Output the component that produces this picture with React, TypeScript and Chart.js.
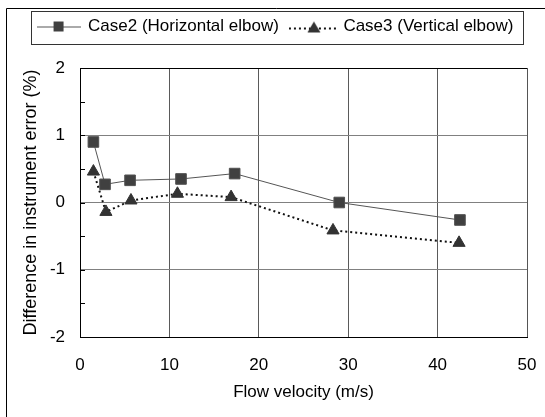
import React, { useEffect, useRef } from 'react';
import { Chart, registerables } from 'chart.js';

Chart.register(...registerables);

// ---- data ----
const seriesNames = ['Case2 (Horizontal elbow)', 'Case3 (Vertical elbow)'];
const case2X = [1.5, 2.8, 5.6, 11.3, 17.3, 29.0, 42.5];
const case2Y = [0.9, 0.27, 0.33, 0.35, 0.43, 0.0, -0.26];
const case3X = [1.5, 2.9, 5.7, 10.9, 16.9, 28.3, 42.4];
const case3Y = [0.46, -0.14, 0.03, 0.13, 0.08, -0.415, -0.6];
const xMin = 0;
const xMax = 50;
const xStep = 10;
const yMin = -2;
const yMax = 2;
const yStep = 1;
const yMinorStep = 0.5;
const xTitle = 'Flow velocity (m/s)';
const yTitle = 'Difference in instrument error (%)';

const FONT = "'Liberation Sans', Arial, sans-serif";

function makeSample(kind: 'square' | 'triangle'): HTMLCanvasElement {
  const c = document.createElement('canvas');
  const w = kind === 'square' ? 44 : 50;
  c.width = w;
  c.height = 14;
  const g = c.getContext('2d') as CanvasRenderingContext2D;
  const cx = w / 2;
  if (kind === 'square') {
    g.strokeStyle = '#555555';
    g.lineWidth = 1;
    g.beginPath();
    g.moveTo(0, 7.5);
    g.lineTo(w, 7.5);
    g.stroke();
    g.fillStyle = '#404040';
    g.fillRect(cx - 5, 2, 10, 10);
  } else {
    g.strokeStyle = '#111111';
    g.lineWidth = 2;
    g.setLineDash([2, 3]);
    g.beginPath();
    g.moveTo(0, 9);
    g.lineTo(w, 9);
    g.stroke();
    g.setLineDash([]);
    g.fillStyle = '#333333';
    g.beginPath();
    g.moveTo(cx, 2);
    g.lineTo(cx + 6.5, 13);
    g.lineTo(cx - 6.5, 13);
    g.closePath();
    g.fill();
  }
  return c;
}

const decor = {
  id: 'decor',
  beforeLayout(chart: any) {
    const leg = chart.legend;
    if (leg && !leg.__patched) {
      const orig = leg.fit.bind(leg);
      leg.fit = function () {
        orig();
        this.height = 64;
      };
      leg.__patched = true;
    }
  },
  afterLayout(chart: any) {
    const leg = chart.legend;
    if (leg) {
      leg.left = 6;
      leg.right = 545;
      leg.width = 539;
    }
  },
  afterDraw(chart: any) {
    const { ctx, chartArea } = chart;
    ctx.save();
    ctx.lineWidth = 1;
    // outer frame
    ctx.strokeStyle = '#000000';
    ctx.beginPath();
    ctx.moveTo(6.5, 430);
    ctx.lineTo(6.5, 8.5);
    ctx.lineTo(560, 8.5);
    ctx.stroke();
    // legend box
    const hb = chart.legend && chart.legend.legendHitBoxes;
    if (hb && hb.length) {
      const l = Math.min(...hb.map((h: any) => h.left)) - 7;
      const r = Math.max(...hb.map((h: any) => h.left + h.width)) + 9;
      ctx.strokeStyle = '#333333';
      ctx.strokeRect(Math.round(l) + 0.5, 11.5, Math.round(r - l), 33);
    }
    // inner minor ticks on y axis
    const ys = chart.scales.y;
    ctx.strokeStyle = '#000000';
    ctx.beginPath();
    for (let v = yMin; v <= yMax + 1e-9; v += yMinorStep) {
      const py = Math.round(ys.getPixelForValue(v)) + 0.5;
      ctx.moveTo(chartArea.left, py);
      ctx.lineTo(chartArea.left + 5, py);
    }
    ctx.stroke();
    ctx.restore();
  },
};

export default function App() {
  const ref = useRef<HTMLCanvasElement | null>(null);

  useEffect(() => {
    if (!ref.current) return;
    const samples = [makeSample('square'), makeSample('triangle')];
    Chart.defaults.font.family = FONT;
    const chart = new Chart(ref.current, {
      type: 'line',
      data: {
        datasets: [
          {
            label: seriesNames[0],
            data: case2X.map((x, i) => ({ x, y: case2Y[i] })),
            borderColor: '#555555',
            borderWidth: 1,
            pointStyle: 'rect',
            pointRadius: 7.5,
            pointBackgroundColor: '#404040',
            pointBorderColor: '#505050',
            pointBorderWidth: 1,
            tension: 0,
            order: 1,
          },
          {
            label: seriesNames[1],
            data: case3X.map((x, i) => ({ x, y: case3Y[i] })),
            borderColor: '#111111',
            borderWidth: 2,
            borderDash: [2, 3],
            pointStyle: 'triangle',
            pointRadius: 7,
            pointBackgroundColor: '#333333',
            pointBorderColor: '#333333',
            pointBorderWidth: 1,
            tension: 0,
            order: 2,
          },
        ],
      },
      options: {
        responsive: false,
        animation: false,
        devicePixelRatio: 1,
        layout: { padding: { left: 0, top: 4, right: 18, bottom: 0 } },
        plugins: {
          tooltip: { enabled: false },
          legend: {
            position: 'top',
            align: 'center',
            labels: {
              usePointStyle: true,
              pointStyleWidth: 42,
              padding: 14,
              color: '#000000',
              font: { size: 17, family: FONT },
              generateLabels: (ch: any) =>
                ch.data.datasets.map((ds: any, i: number) => ({
                  text: ds.label,
                  pointStyle: samples[i],
                  fillStyle: 'transparent',
                  strokeStyle: 'transparent',
                  lineWidth: 0,
                  hidden: false,
                  datasetIndex: i,
                  fontColor: '#000000',
                })),
            },
          },
        },
        scales: {
          x: {
            type: 'linear',
            min: xMin,
            max: xMax,
            ticks: {
              stepSize: xStep,
              color: '#000000',
              font: { size: 17, family: FONT },
              padding: 18,
              maxRotation: 0,
            },
            grid: {
              drawTicks: false,
              color: (c: any) => {
                const v = c.tick ? c.tick.value : 0;
                if (v === xMin) return 'transparent';
                if (v === xMax) return '#555555';
                return '#5a5a5a';
              },
            },
            border: { display: true, color: '#000000', width: 1 },
            title: {
              display: true,
              text: xTitle,
              color: '#000000',
              font: { size: 17, family: FONT },
              padding: { top: 0, bottom: 14 },
            },
            afterFit: (s: any) => {
              s.height = 80;
              s.paddingLeft = 0;
              s.paddingRight = 0;
            },
          },
          y: {
            type: 'linear',
            min: yMin,
            max: yMax,
            ticks: {
              stepSize: yStep,
              color: '#000000',
              font: { size: 17, family: FONT },
              padding: 15,
            },
            grid: {
              drawTicks: false,
              color: (c: any) => {
                const v = c.tick ? c.tick.value : 0;
                if (v === yMin) return 'transparent';
                if (v === yMax) return '#000000';
                return '#808080';
              },
            },
            border: { display: true, color: '#000000', width: 1 },
            title: {
              display: true,
              text: yTitle,
              color: '#000000',
              font: { size: 18, family: FONT },
              padding: { top: 20, bottom: 0 },
            },
            afterFit: (s: any) => {
              s.width = 80;
              s.paddingTop = 0;
              s.paddingBottom = 0;
            },
          },
        },
      },
      plugins: [decor],
    } as any);
    return () => chart.destroy();
  }, []);

  return (
    <div style={{ position: 'fixed', left: 0, top: 0, width: 545, height: 417, background: '#ffffff' }}>
      <canvas ref={ref} width={545} height={417} style={{ display: 'block', width: 545, height: 417 }} />
    </div>
  );
}
